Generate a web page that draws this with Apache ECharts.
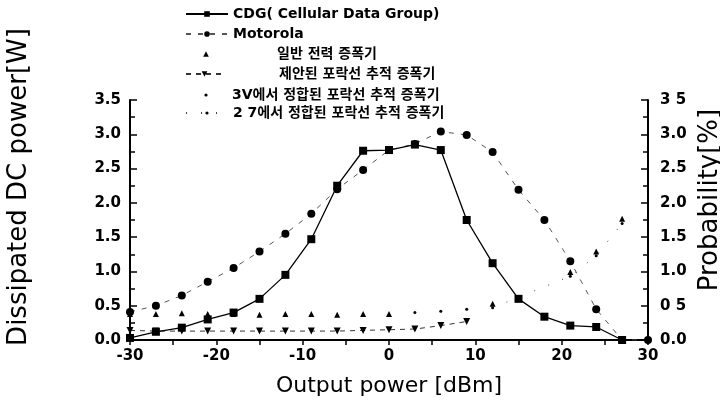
<!DOCTYPE html>
<html>
<head>
<meta charset="utf-8">
<script src="https://cdn.jsdelivr.net/npm/echarts@6/dist/echarts.min.js"></script>
<style>
  html, body { margin: 0; padding: 0; background: #fff; }
  #chart { width: 720px; height: 401px; }
</style>
</head>
<body>
<div id="chart"></div>
<script>
// output power [dBm]
const xSteps = [-30, -27, -24, -21, -18, -15, -12, -9, -6, -3, 0, 3, 6, 9, 12, 15, 18, 21, 24, 27];
const cdgProb = [0.03, 0.12, 0.18, 0.30, 0.40, 0.60, 0.95, 1.47, 2.25, 2.76, 2.77, 2.85, 2.77, 1.75, 1.12, 0.60, 0.34, 0.21, 0.19, 0.0];
const motoX = [-30, -27, -24, -21, -18, -15, -12, -9, -6, -3, 0, 3, 6, 9, 12, 15, 18, 21, 24, 27, 30];
const motoProb = [0.41, 0.50, 0.65, 0.85, 1.05, 1.29, 1.55, 1.84, 2.20, 2.48, 2.77, 2.86, 3.04, 2.99, 2.74, 2.19, 1.75, 1.15, 0.45, 0.0, 0.0];
const generalX = [-30, -27, -24, -21, -18, -15, -12, -9, -6, -3, 0, 12, 21, 24, 27];
const generalPower = [0.38, 0.38, 0.39, 0.38, 0.38, 0.37, 0.38, 0.38, 0.37, 0.38, 0.38, 0.53, 0.99, 1.29, 1.77];
const proposedX = [-30, -27, -24, -21, -18, -15, -12, -9, -6, -3, 0, 3, 6, 9];
const proposedPower = [0.14, 0.13, 0.13, 0.13, 0.13, 0.13, 0.13, 0.13, 0.13, 0.14, 0.15, 0.16, 0.21, 0.27];
const matched3vX = [3, 6, 9];
const matched3vPower = [0.40, 0.42, 0.45];
const matched27X = [12, 21, 24, 27];
const matched27Power = [0.47, 0.93, 1.23, 1.70];
const leftTicks = ['0.0', '0.5', '1.0', '1.5', '2.0', '2.5', '3.0', '3.5'];
const rightTicks = ['0.0', '0 5', '1.0', '1.5', '2.0', '2.5', '3.0', '3 5'];

const seriesNames = [
  'CDG( Cellular Data Group)',
  'Motorola',
  '일반 전력 증폭기',
  '제안된 포락선 추적 증폭기',
  '3V에서 정합된 포락선 추적 증폭기',
  '2 7에서 정합된 포락선 추적 증폭기',
];

const FONT = "'DejaVu Sans', 'Noto Sans CJK KR', sans-serif";
const pairs = (xs, ys) => xs.map((x, i) => [x, ys[i]]);

const chart = echarts.init(document.getElementById('chart'));

const legendRows = [
  { name: seriesNames[0], top: 7, itemWidth: 42, itemHeight: 7, pad: 0 },
  { name: seriesNames[1], top: 27, itemWidth: 42, itemHeight: 7, pad: 0 },
  { name: seriesNames[2], top: 47, itemWidth: 42, itemHeight: 7, pad: 45 },
  { name: seriesNames[3], top: 67, itemWidth: 37, itemHeight: 7, pad: 51 },
  { name: seriesNames[4], top: 88, itemWidth: 42, itemHeight: 4, pad: 0 },
  { name: seriesNames[5], top: 106, itemWidth: 42, itemHeight: 4, pad: 0 },
];

const tickAxis = (labels, side) => ({
  type: 'value',
  min: 0,
  max: 3.5,
  interval: 0.5,
  position: side,
  axisLine: { show: true, onZero: false, lineStyle: { color: '#000', width: 2 } },
  axisTick: { show: true, inside: true, length: 7, lineStyle: { color: '#000', width: 1.5 } },
  minorTick: { show: true, splitNumber: 2, length: 5, lineStyle: { color: '#000', width: 1.5 } },
  splitLine: { show: false },
  axisLabel: {
    color: '#000',
    fontFamily: FONT,
    fontWeight: 'bold',
    fontSize: 15,
    margin: side === 'left' ? 9 : 12,
    formatter: (v) => labels[Math.round(v / 0.5)],
  },
});

const leftAxis = tickAxis(leftTicks, 'left');
leftAxis.name = 'Dissipated DC power[W]';
leftAxis.nameLocation = 'middle';
leftAxis.nameRotate = 90;
leftAxis.nameGap = 98;
leftAxis.nameTextStyle = { color: '#000', fontFamily: FONT, fontSize: 26, padding: [0, 0, 0, 66] };

const rightAxis = tickAxis(rightTicks, 'right');
rightAxis.name = 'Probability[%]';
rightAxis.nameLocation = 'middle';
rightAxis.nameRotate = 90;
rightAxis.nameGap = 46;
rightAxis.nameTextStyle = { color: '#000', fontFamily: FONT, fontSize: 26, padding: [0, 0, 0, 40] };

chart.setOption({
  backgroundColor: '#fff',
  animation: false,
  legend: legendRows.map((r) => ({
    data: [r.name],
    left: 185,
    top: r.top,
    orient: 'vertical',
    padding: 0,
    itemWidth: r.itemWidth,
    itemHeight: r.itemHeight,
    selectedMode: false,
    textStyle: {
      color: '#000',
      fontFamily: FONT,
      fontWeight: 'bold',
      fontSize: 14,
      padding: [0, 0, 0, r.pad],
    },
  })),
  grid: { left: 130, right: 72, top: 100, bottom: 61, containLabel: false, outerBoundsMode: 'none' },
  xAxis: {
    type: 'value',
    min: -30,
    max: 30,
    interval: 10,
    name: 'Output power [dBm]',
    nameLocation: 'middle',
    nameGap: 35,
    nameTextStyle: { color: '#000', fontFamily: FONT, fontSize: 22 },
    axisLine: { onZero: false, lineStyle: { color: '#000', width: 2 } },
    axisTick: { show: true, length: 5, lineStyle: { color: '#000', width: 1.5 } },
    minorTick: { show: true, splitNumber: 2, length: 5, lineStyle: { color: '#000', width: 1.5 } },
    splitLine: { show: false },
    axisLabel: { color: '#000', fontFamily: FONT, fontWeight: 'bold', fontSize: 15, margin: 9 },
  },
  yAxis: [leftAxis, rightAxis],
  series: [
    {
      name: seriesNames[0],
      type: 'line',
      yAxisIndex: 1,
      data: pairs(xSteps, cdgProb),
      symbol: 'rect',
      symbolSize: 8,
      lineStyle: { color: '#000', width: 1.3 },
      itemStyle: { color: '#000' },
      z: 5,
    },
    {
      name: seriesNames[1],
      type: 'line',
      yAxisIndex: 1,
      data: pairs(motoX, motoProb),
      symbol: 'circle',
      symbolSize: 8,
      lineStyle: { color: '#555', width: 1, type: [5, 7] },
      itemStyle: { color: '#000' },
      z: 4,
    },
    {
      name: seriesNames[2],
      type: 'line',
      data: pairs(generalX, generalPower),
      symbol: 'triangle',
      symbolSize: 6,
      lineStyle: { width: 0 },
      itemStyle: { color: '#000' },
    },
    {
      name: seriesNames[3],
      type: 'line',
      data: pairs(proposedX, proposedPower),
      symbol: 'triangle',
      symbolRotate: 180,
      symbolSize: 7,
      lineStyle: { color: '#333', width: 1, type: [5, 5] },
      itemStyle: { color: '#000' },
    },
    {
      name: seriesNames[4],
      type: 'line',
      data: pairs(matched3vX, matched3vPower),
      symbol: 'circle',
      symbolSize: 3,
      lineStyle: { width: 0 },
      itemStyle: { color: '#000' },
    },
    {
      name: seriesNames[5],
      type: 'line',
      data: pairs(matched27X, matched27Power),
      symbol: 'circle',
      symbolSize: 3,
      lineStyle: { color: '#444', width: 1, type: [1, 14] },
      itemStyle: { color: '#000' },
    },
  ],
});
</script>
</body>
</html>
